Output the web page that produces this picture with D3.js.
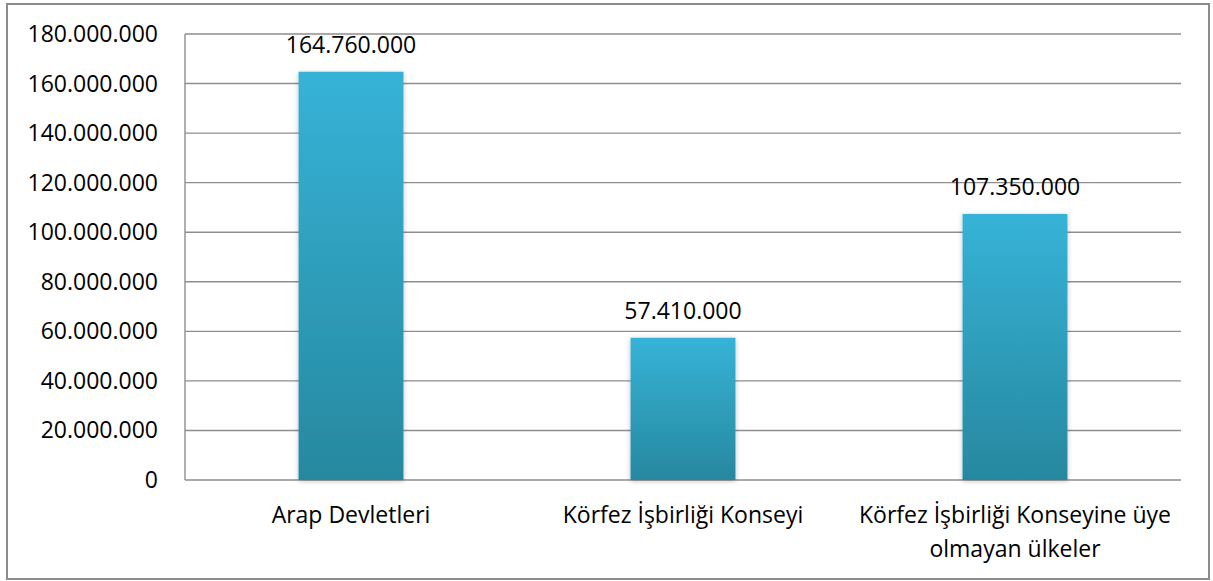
<!DOCTYPE html>
<html lang="tr">
<head>
    <meta charset="UTF-8">
    <title>Körfez İşbirliği</title>
    <script src="https://cdn.jsdelivr.net/npm/d3@7"></script>
    <style>
        body { margin: 0; background: #fff; }
        #chart text { font-family: "Open Sans", Lato, sans-serif; fill: #000; }
    </style>
</head>
<body>
<div id="chart"></div>
<script>
    // data
    const categories = [
        ["Arap Devletleri"],
        ["Körfez İşbirliği Konseyi"],
        ["Körfez İşbirliği Konseyine üye", "olmayan ülkeler"]
    ];
    const values = [164760000, 57410000, 107350000];
    const valueLabels = ["164.760.000", "57.410.000", "107.350.000"];
    const tickValues = [0, 20000000, 40000000, 60000000, 80000000, 100000000, 120000000, 140000000, 160000000, 180000000];

    const width = 1213, height = 581;
    const plot = {left: 185, right: 1181, top: 34, bottom: 480};
    const fontSize = 23;

    // number format with dots, like 20.000.000
    const fmt = d => d3.format(",")(d).replace(/,/g, ".");

    const svg = d3.select("#chart").append("svg")
        .attr("width", width)
        .attr("height", height);

    const defs = svg.append("defs");
    const grad = defs.append("linearGradient")
        .attr("id", "barGrad")
        .attr("x1", 0).attr("y1", 0).attr("x2", 0).attr("y2", 1);
    grad.append("stop").attr("offset", "0%").attr("stop-color", "#36b3d7");
    grad.append("stop").attr("offset", "100%").attr("stop-color", "#27889f");

    const shadow = defs.append("filter").attr("id", "shadow")
        .attr("x", "-10%").attr("y", "-10%").attr("width", "120%").attr("height", "120%");
    shadow.append("feDropShadow")
        .attr("dx", 0).attr("dy", 1).attr("stdDeviation", 2.5)
        .attr("flood-color", "#000").attr("flood-opacity", 0.25);

    // outer frame
    svg.append("rect")
        .attr("x", 7).attr("y", 4)
        .attr("width", 1202).attr("height", 575)
        .attr("fill", "#fff")
        .attr("stroke", "#8c8c8c")
        .attr("stroke-width", 2);

    const x = d3.scaleBand()
        .domain(d3.range(categories.length))
        .range([plot.left, plot.right])
        .paddingInner(0.684)
        .paddingOuter(0.342);

    const y = d3.scaleLinear()
        .domain([0, 180000000])
        .range([plot.bottom, plot.top]);

    // gridlines
    svg.append("g")
        .selectAll("line")
        .data(tickValues)
        .join("line")
        .attr("x1", plot.left).attr("x2", plot.right)
        .attr("y1", d => y(d)).attr("y2", d => y(d))
        .attr("stroke", "#8e8e8e")
        .attr("stroke-width", 1.4);

    // left axis line
    svg.append("line")
        .attr("x1", plot.left).attr("x2", plot.left)
        .attr("y1", plot.top).attr("y2", plot.bottom)
        .attr("stroke", "#8e8e8e")
        .attr("stroke-width", 1.4);

    // y tick labels
    svg.append("g")
        .selectAll("text")
        .data(tickValues)
        .join("text")
        .attr("x", 158)
        .attr("y", d => y(d))
        .attr("dy", "0.35em")
        .attr("text-anchor", "end")
        .attr("font-size", fontSize)
        .text(fmt);

    // bars
    svg.append("g")
        .selectAll("rect")
        .data(values)
        .join("rect")
        .attr("x", (d, i) => x(i))
        .attr("width", x.bandwidth())
        .attr("y", d => y(d))
        .attr("height", d => y(0) - y(d))
        .attr("fill", "url(#barGrad)")
        .attr("filter", "url(#shadow)");

    // value labels
    svg.append("g")
        .selectAll("text")
        .data(values)
        .join("text")
        .attr("x", (d, i) => x(i) + x.bandwidth() / 2)
        .attr("y", d => y(d) - 19)
        .attr("text-anchor", "middle")
        .attr("font-size", fontSize)
        .text((d, i) => valueLabels[i]);

    // category labels
    const cat = svg.append("g")
        .selectAll("text")
        .data(categories)
        .join("text")
        .attr("x", (d, i) => x(i) + x.bandwidth() / 2)
        .attr("y", 523)
        .attr("text-anchor", "middle")
        .attr("font-size", fontSize);
    cat.selectAll("tspan")
        .data(d => d)
        .join("tspan")
        .attr("x", function () { return this.parentNode.getAttribute("x"); })
        .attr("dy", (d, i) => i === 0 ? 0 : 34)
        .text(d => d);
</script>
</body>
</html>
